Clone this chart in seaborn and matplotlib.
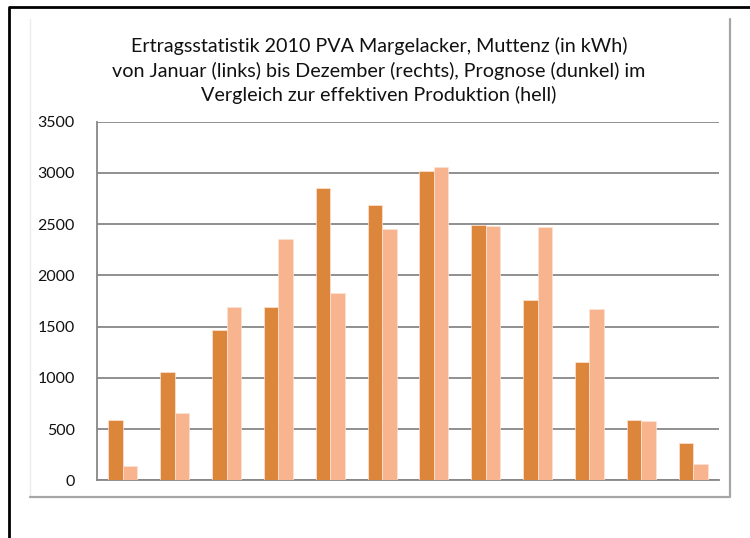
import matplotlib
matplotlib.use("Agg")
import matplotlib.pyplot as plt
from matplotlib.lines import Line2D
import seaborn as sns
import pandas as pd

months = ["Jan", "Feb", "Mär", "Apr", "Mai", "Jun", "Jul", "Aug", "Sep", "Okt", "Nov", "Dez"]
prognose = [590, 1060, 1470, 1695, 2855, 2687, 3022, 2495, 1760, 1152, 592, 361]
effektiv = [140, 657, 1692, 2355, 1831, 2453, 3058, 2485, 2472, 1672, 576, 156]
series_names = ["Prognose", "Effektiv"]
yticks = [0, 500, 1000, 1500, 2000, 2500, 3000, 3500]
title = ("Ertragsstatistik 2010 PVA Margelacker, Muttenz (in kWh)\n"
         "von Januar (links) bis Dezember (rechts), Prognose (dunkel) im\n"
         "Vergleich zur effektiven Produktion (hell)")

df = pd.DataFrame({
    "Monat": months * 2,
    "kWh": prognose + effektiv,
    "Serie": [series_names[0]] * len(months) + [series_names[1]] * len(months),
})

sns.set_theme(style="white")
plt.rcParams["font.family"] = ["Lato", "DejaVu Sans"]

W, H = 750, 538
fig = plt.figure(figsize=(W / 100, H / 100), dpi=100)
fig.patch.set_facecolor("white")
ax = fig.add_axes([97 / W, 1 - 480.3 / H, (719 - 97) / W, (480.3 - 121.7) / H])

palette = {"Prognose": "#DC863C", "Effektiv": "#F8B48E"}
sns.barplot(data=df, x="Monat", y="kWh", hue="Serie", order=months,
            hue_order=series_names, palette=palette, width=0.56, gap=0,
            edgecolor="#FCE4D6", linewidth=0.5, saturation=1, ax=ax,
            legend=False, zorder=3)

ax.set_ylim(0, 3500)
ax.set_xlim(-0.5, 11.5)
ax.set_yticks(yticks)
ax.set_yticklabels([str(v) for v in yticks], fontsize=11.5, color="#111111")
ax.tick_params(axis="y", length=0, pad=16)
ax.tick_params(axis="x", length=0, labelbottom=False)
ax.set_xlabel("")
ax.set_ylabel("")
ax.yaxis.grid(True, color="#878787", linewidth=1.3, zorder=0)
ax.set_axisbelow(True)
for s in ["top", "right"]:
    ax.spines[s].set_visible(False)
for s in ["left", "bottom"]:
    ax.spines[s].set_color("#878787")
    ax.spines[s].set_linewidth(1.3)

fig.text(379 / W, 1 - 70.5 / H, title, ha="center", va="center", fontsize=14.2,
         linespacing=1.4, color="#111111")

# outer black border (top and left)
fig.add_artist(Line2D([8.5 / W, 8.5 / W, 1.0], [0.0, 1 - 7 / H, 1 - 7 / H],
                      color="black", linewidth=2.0))
# inner chart frame
fig.add_artist(Line2D([30.5 / W, 30.5 / W], [1 - 19 / H, 1 - 497 / H],
                      color="#EBEBEB", linewidth=1.0))
fig.add_artist(Line2D([30.5 / W, 729.5 / W, 729.5 / W], [1 - 497 / H, 1 - 497 / H, 1 - 19 / H],
                      color="#A6A6A6", linewidth=1.6))

fig.savefig("out.png", dpi=100)
